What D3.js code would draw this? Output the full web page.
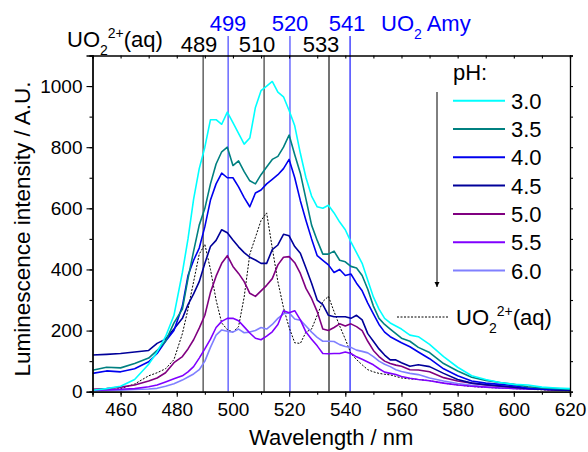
<!DOCTYPE html>
<html>
<head>
<meta charset="utf-8">
<script src="https://cdn.jsdelivr.net/npm/d3@7"></script>
<style>
body { margin: 0; background: #fff; }
text { font-family: "Liberation Sans", Arial, sans-serif; }
</style>
</head>
<body>
<div class="container"></div>
<script>
// wavelengths (nm) shared by every spectrum
var wavelength = [450,455,460,465,470,473,476,479,482,484,486,488,490,492,494,496,498,500,502,504,506,508,510,512,514,516,518,520,522,524,526,528,530,532,534,536,538,540,542,544,546,548,550,552,554,556,558,560,563,566,570,575,580,585,590,595,600,605,610,615,620];

// luminescence, one array per pH
var ph30 = [5,10,18,40,90,130,180,250,390,500,630,730,800,890,890,875,915,880,845,810,830,930,985,1000,1015,980,965,920,870,780,700,640,605,600,610,585,555,530,490,455,420,365,310,270,240,225,215,205,185,180,155,115,80,52,40,30,24,22,15,12,10];
var ph35 = [70,80,78,92,110,135,165,225,270,370,460,545,600,680,745,785,800,740,755,720,690,680,710,735,760,770,800,840,775,715,630,545,495,450,450,460,430,425,410,405,380,335,280,240,220,205,190,175,165,145,128,92,68,47,37,30,24,16,12,10,8];
var ph40 = [60,68,65,75,98,125,165,200,280,380,430,470,540,627,680,715,700,700,670,635,605,650,660,680,695,710,730,760,700,625,560,500,445,430,415,390,400,380,385,355,330,290,255,220,195,180,170,160,147,130,108,75,52,35,28,24,20,11,9,8,7];
var ph45 = [120,122,125,130,135,158,172,205,240,285,320,360,420,475,495,530,520,496,474,455,440,431,420,420,465,480,515,510,475,453,405,355,300,285,250,245,245,245,240,250,235,190,165,140,120,104,104,95,83,88,82,60,40,28,23,19,15,11,8,6,5];
var ph50 = [8,10,15,22,35,45,62,95,115,140,170,208,250,325,378,420,445,410,387,360,322,312,330,348,370,415,440,442,422,387,338,305,262,205,200,210,222,215,222,213,200,165,135,115,100,92,87,83,72,71,65,46,35,28,22,18,15,11,8,6,5];
var ph55 = [5,6,8,10,16,22,32,42,52,65,82,110,140,172,210,230,240,240,232,212,192,175,170,182,196,220,265,258,265,235,195,172,150,125,124,125,125,130,125,114,106,97,88,75,64,60,56,50,44,40,36,28,22,18,15,12,11,9,8,6,5];
var ph60 = [3,4,5,7,9,11,18,26,38,48,58,72,100,145,185,202,198,195,205,193,195,200,210,205,220,240,255,258,238,234,215,195,178,165,165,164,154,148,145,136,132,127,115,100,90,82,72,66,60,56,45,35,27,21,16,13,11,9,8,6,4];
// free uranyl reference spectrum (dotted)
var uo2aq = [3,5,10,25,52,62,75,105,190,270,360,450,482,400,300,225,203,195,213,310,450,505,560,585,470,360,275,210,160,158,195,205,250,295,312,262,215,172,125,105,88,72,65,60,57,55,50,45,42,40,36,28,22,17,14,12,10,8,6,4,3];

var phLabels = ["3.0","3.5","4.0","4.5","5.0","5.5","6.0"];
var phColors = ["#00ffff","#008080","#0000ee","#000099","#800080","#8000ff","#8080ff"];
var phSeries = [ph30, ph35, ph40, ph45, ph50, ph55, ph60];

// peak markers: where the line sits, and what is written on top
var aqPeaks = [489.4, 511.1, 534.2];
var aqPeakText = ["489","510","533"];
var amyPeaks = [498.3, 520.3, 541.7];
var amyPeakText = ["499","520","541"];

var W = 588, H = 452;
var svg = d3.select(".container").insert("svg")
	.attr("width", W)
	.attr("height", H);

var x = d3.scaleLinear().domain([450, 620]).range([92.5, 570]);
var y = d3.scaleLinear().domain([0, 1100]).range([391.7, 55.5]);

// clip the spectra to the frame
svg.append("clipPath").attr("id", "plotclip")
	.append("rect")
	.attr("x", x(450)).attr("y", y(1100))
	.attr("width", x(620) - x(450)).attr("height", y(0) - y(1100));

// vertical marker lines (black ones for aq, blue ones for Amy)
svg.selectAll(".aqline").data(aqPeaks).enter().append("line")
	.attr("class", "aqline")
	.attr("x1", function(d) { return x(d); }).attr("x2", function(d) { return x(d); })
	.attr("y1", y(1100)).attr("y2", y(0))
	.style("stroke", function(d, i) { return i < 2 ? "#6a6a6a" : "#000"; })
	.style("stroke-width", function(d, i) { return i < 2 ? 1.6 : 1.1; });

svg.selectAll(".amyline").data(amyPeaks).enter().append("line")
	.attr("class", "amyline")
	.attr("x1", function(d) { return x(d); }).attr("x2", function(d) { return x(d); })
	.attr("y1", 36).attr("y2", y(0))
	.style("stroke", function(d, i) { return i < 2 ? "#7373ff" : "#0000ff"; })
	.style("stroke-width", function(d, i) { return i < 2 ? 1.6 : 1.1; });

var line = d3.line()
	.x(function(d, i) { return x(wavelength[i]); })
	.y(function(d) { return y(d); });

var plot = svg.append("g").attr("clip-path", "url(#plotclip)");

plot.append("path")
	.datum(uo2aq)
	.attr("d", line)
	.style("fill", "none")
	.style("stroke", "#000")
	.style("stroke-width", 1)
	.style("stroke-dasharray", "2,1.5");

// draw pH 6.0 first so 3.0 ends on top
for (var k = phSeries.length - 1; k >= 0; k--) {
	plot.append("path")
		.datum(phSeries[k])
		.attr("d", line)
		.style("fill", "none")
		.style("stroke", phColors[k])
		.style("stroke-width", 1.6)
		.style("stroke-linejoin", "round");
}

// axes
var xBottom = d3.axisBottom(x).tickValues(d3.range(460, 621, 20)).tickSize(5).tickPadding(6).tickFormat(d3.format("d"));
var xMinor = d3.axisBottom(x).tickValues(d3.range(450, 621, 10)).tickSize(3).tickFormat("");
var xTop = d3.axisTop(x).tickValues(d3.range(450, 621, 10)).tickSize(-3).tickFormat("");
var yLeft = d3.axisLeft(y).tickValues(d3.range(0, 1001, 200)).tickSize(6).tickPadding(4).tickFormat(d3.format("d"));
var yMinor = d3.axisLeft(y).tickValues(d3.range(0, 1101, 100)).tickSize(3).tickFormat("");
var yRight = d3.axisRight(y).tickValues(d3.range(0, 1101, 100)).tickSize(3).tickFormat("");

function styleAxis(g) {
	g.selectAll("path").style("stroke", "#000").style("stroke-width", 1.3);
	g.selectAll("line").style("stroke", "#000").style("stroke-width", 1.1);
	g.selectAll("text").style("font-size", "19px").style("fill", "#000")
		.style("font-family", "'Liberation Sans', Arial, sans-serif");
}

svg.append("g").attr("transform", "translate(0," + y(0) + ")").call(xMinor).call(styleAxis);
svg.append("g").attr("transform", "translate(0," + y(0) + ")").call(xBottom).call(styleAxis);
svg.append("g").attr("transform", "translate(0," + y(1100) + ")").call(xTop).call(styleAxis);
svg.append("g").attr("transform", "translate(" + x(450) + ",0)").call(yMinor).call(styleAxis);
svg.append("g").attr("transform", "translate(" + x(450) + ",0)").call(yLeft).call(styleAxis);
svg.append("g").attr("transform", "translate(" + x(620) + ",0)").call(yRight).call(styleAxis);

// axis titles
svg.append("text")
	.attr("x", (x(450) + x(620)) / 2).attr("y", 445)
	.attr("text-anchor", "middle")
	.style("font-size", "22px")
	.text("Wavelength / nm");

svg.append("text")
	.attr("transform", "translate(30," + 229 + ") rotate(-90)")
	.attr("text-anchor", "middle")
	.style("font-size", "22.5px")
	.text("Luminescence intensity / A.U.");

// UO2 2+ (aq) style label with sub and sup
function uranylLabel(px, py, color, withCharge, tail) {
	var t = svg.append("text").attr("x", px).attr("y", py)
		.style("font-size", "22px").style("fill", color);
	t.append("tspan").text("UO");
	t.append("tspan").attr("dy", 8).style("font-size", "14px").text("2");
	if (withCharge) {
		t.append("tspan").attr("dy", -17).style("font-size", "14px").text("2+");
		t.append("tspan").attr("dy", 9).text(tail);
	} else {
		t.append("tspan").attr("dy", -8).text(tail);
	}
	return t;
}

// peak numbers on top
svg.selectAll(".aqtxt").data(aqPeakText).enter().append("text")
	.attr("x", function(d, i) { return [199, 257, 321][i]; })
	.attr("y", 52)
	.attr("text-anchor", "middle")
	.style("font-size", "22px")
	.text(function(d) { return d; });

svg.selectAll(".amytxt").data(amyPeakText).enter().append("text")
	.attr("x", function(d, i) { return [228, 290, 347][i]; })
	.attr("y", 31)
	.attr("text-anchor", "middle")
	.style("font-size", "22px")
	.style("fill", "#0000ff")
	.text(function(d) { return d; });

uranylLabel(67, 47, "#000", true, "(aq)");
uranylLabel(381, 31, "#0000ff", false, " Amy");

// legend
var legX = 453, legY0 = 100.7, legStep = 28.3;
svg.append("text").attr("x", legX).attr("y", 80).style("font-size", "22px").text("pH:");
var leg = svg.selectAll(".leg").data(phLabels).enter().append("g")
	.attr("class", "leg")
	.attr("transform", function(d, i) { return "translate(" + legX + "," + (legY0 + i * legStep) + ")"; });
leg.append("line").attr("x1", 0).attr("x2", 52)
	.style("stroke", function(d, i) { return phColors[i]; })
	.style("stroke-width", 2);
leg.append("text").attr("x", 58).attr("y", 8)
	.style("font-size", "22px")
	.text(function(d) { return d; });

// arrow showing increasing pH
svg.append("defs").append("marker")
	.attr("id", "arrowhead")
	.attr("viewBox", "0 0 10 10").attr("refX", 10).attr("refY", 5)
	.attr("markerWidth", 5).attr("markerHeight", 9)
	.attr("markerUnits", "userSpaceOnUse")
	.attr("orient", "auto")
	.append("path").attr("d", "M0,0 L10,5 L0,10 z").style("fill", "#000");
svg.append("line")
	.attr("x1", 437).attr("x2", 437).attr("y1", 92).attr("y2", 287)
	.style("stroke", "#000").style("stroke-width", 1)
	.attr("marker-end", "url(#arrowhead)");

// dotted leader to the free uranyl label
svg.append("line")
	.attr("x1", 397).attr("x2", 448).attr("y1", 317).attr("y2", 317)
	.style("stroke", "#000").style("stroke-width", 1)
	.style("stroke-dasharray", "2,1.5");
uranylLabel(456, 325, "#000", true, "(aq)");
</script>
</body>
</html>
